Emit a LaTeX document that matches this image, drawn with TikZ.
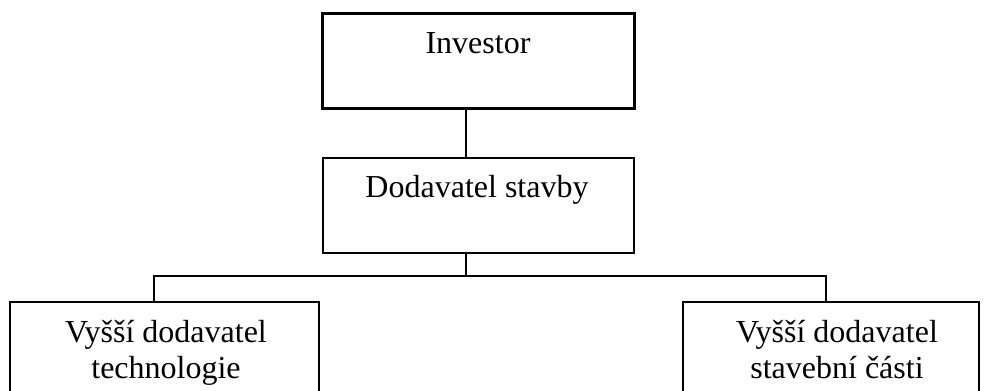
\documentclass[tikz,border=0pt]{standalone}
\usepackage{fontspec}
\setmainfont{Liberation Serif}
\begin{document}
\begin{tikzpicture}[x=0.75pt,y=-0.75pt,
  box/.style={draw=black,line width=1.5pt,fill=white},
  thickbox/.style={draw=black,line width=2.4pt,fill=white},
  conn/.style={draw=black,line width=1.5pt},
  lbl/.style={font=\fontsize{24}{27}\selectfont,align=center,anchor=base}]
\useasboundingbox (0,0) rectangle (984,390);
\begin{scope}
\clip (0,0) rectangle (984,390);
% boxes
\node[thickbox,minimum width=312*0.75pt,minimum height=95*0.75pt,anchor=north west,inner sep=0pt] (inv) at (321,12) {};
\node[box,minimum width=311*0.75pt,minimum height=95*0.75pt,anchor=north west,inner sep=0pt] (dod) at (322,157) {};
\node[box,minimum width=309*0.75pt,minimum height=120*0.75pt,anchor=north west,inner sep=0pt] (tech) at (9,301) {};
\node[box,minimum width=296*0.75pt,minimum height=120*0.75pt,anchor=north west,inner sep=0pt] (stav) at (682,301) {};
% texts
\node[lbl] (tinv) at (478,53) {Investor};
\node[lbl] (tdod) at (477,197) {Dodavatel stavby};
\node[lbl] (ttech1) at (166,342) {Vyšší dodavatel};
\node[lbl] (ttech2) at (166,378) {technologie};
\node[lbl] (tstav1) at (837,342) {Vyšší dodavatel};
\node[lbl] (tstav2) at (837,378) {stavební části};
% connectors
\coordinate (invb) at (466,107);
\coordinate (dodt) at (466,157);
\coordinate (dodb) at (466,252);
\coordinate (j) at (466,276);
\coordinate (jl) at (154,276);
\coordinate (jr) at (826,276);
\coordinate (tl) at (154,301);
\coordinate (tr) at (826,301);
\draw[conn] (invb) -- (dodt);
\draw[conn] (dodb) -- (j);
\draw[conn,line cap=rect] (tl) -- (jl) -- (jr) -- (tr);
\end{scope}
\end{tikzpicture}
\end{document}
